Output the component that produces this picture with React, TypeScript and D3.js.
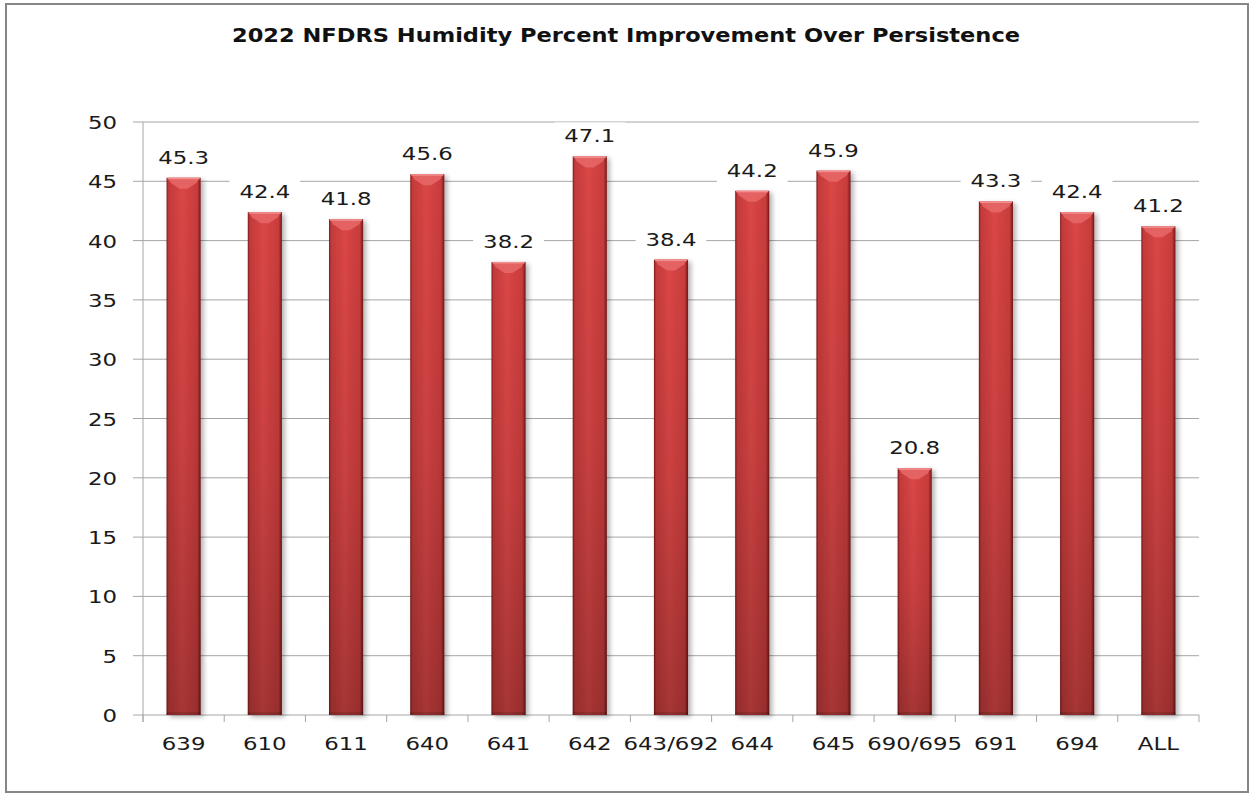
import React from "react";
import { scaleBand, scaleLinear, range } from "d3";

const categories = ["639", "610", "611", "640", "641", "642", "643/692", "644", "645", "690/695", "691", "694", "ALL"];
const values = [45.3, 42.4, 41.8, 45.6, 38.2, 47.1, 38.4, 44.2, 45.9, 20.8, 43.3, 42.4, 41.2];
const yTicks = range(0, 51, 5);
const title = "2022 NFDRS Humidity Percent Improvement Over Persistence";

const FONT = "'DejaVu Sans', Verdana, sans-serif";
const SX = 1.27; // glyphs in the picture are stretched horizontally

const App = () => {
  const width = 1252;
  const height = 794;
  const margin = { top: 122, right: 53, bottom: 79, left: 143 };
  const innerWidth = width - margin.left - margin.right;
  const innerHeight = height - margin.top - margin.bottom;

  const xScale = scaleBand().domain(categories).range([0, innerWidth]).paddingInner(0.58).paddingOuter(0.29);
  const step = innerWidth / categories.length;
  const yScale = scaleLinear().domain([0, 50]).range([innerHeight, 0]);

  const labelText = (v: number) => v.toFixed(1);
  const approxWidth = (s: string) => s.split("").reduce((a, c) => a + (c === "." ? 5.7 : 11.4), 0) * SX;

  return (
    <div style={{ position: "absolute", left: 0, top: 0 }}>
      <svg width={width} height={height} style={{ display: "block", background: "#fff" }}>
        <defs>
          <linearGradient id="barH" x1="0" x2="1" y1="0" y2="0">
            <stop offset="0%" stopColor="#7e1a1a" />
            <stop offset="6%" stopColor="#c33a3a" />
            <stop offset="45%" stopColor="#db4646" />
            <stop offset="90%" stopColor="#c83c3c" />
            <stop offset="100%" stopColor="#741717" />
          </linearGradient>
          <linearGradient id="barV" x1="0" x2="0" y1="0" y2="1">
            <stop offset="0%" stopColor="#000" stopOpacity="0" />
            <stop offset="50%" stopColor="#000" stopOpacity="0.08" />
            <stop offset="100%" stopColor="#000" stopOpacity="0.24" />
          </linearGradient>
          <filter id="shadow" x="-30%" y="-10%" width="160%" height="120%">
            <feGaussianBlur in="SourceAlpha" stdDeviation="2.5" />
            <feOffset dx="3" dy="2" result="b" />
            <feComponentTransfer>
              <feFuncA type="linear" slope="0.3" />
            </feComponentTransfer>
            <feMerge>
              <feMergeNode />
              <feMergeNode in="SourceGraphic" />
            </feMerge>
          </filter>
        </defs>

        <rect x={6} y={4} width={1242} height={788} fill="#fff" stroke="#868686" strokeWidth={2} />

        <text
          x={width / 2}
          y={42}
          textAnchor="middle"
          fontFamily={FONT}
          fontWeight="bold"
          fontSize={19}
          fill="#111"
          textLength={788}
          lengthAdjust="spacingAndGlyphs"
        >
          {title}
        </text>

        <g transform={`translate(${margin.left},${margin.top})`}>
          {/* gridlines */}
          {yTicks.map((t) => (
            <line key={t} x1={-10} x2={innerWidth} y1={yScale(t)} y2={yScale(t)} stroke="#a6a6a6" strokeWidth={1} />
          ))}
          {/* axes */}
          <line x1={0} x2={0} y1={0} y2={innerHeight + 7} stroke="#a6a6a6" />
          {range(categories.length + 1).map((i) => (
            <line key={i} x1={i * step} x2={i * step} y1={innerHeight} y2={innerHeight + 7} stroke="#a6a6a6" />
          ))}
          {yTicks.map((t) => (
            <text
              key={t}
              transform={`translate(-26,${yScale(t) + 7}) scale(${SX},1)`}
              textAnchor="end"
              fontFamily={FONT}
              fontSize={18}
              fill="#1a1a1a"
            >
              {t}
            </text>
          ))}
          {categories.map((c) => (
            <text
              key={c}
              transform={`translate(${(xScale(c) as number) + xScale.bandwidth() / 2},${innerHeight + 35}) scale(${SX},1)`}
              textAnchor="middle"
              fontFamily={FONT}
              fontSize={18}
              fill="#1a1a1a"
            >
              {c}
            </text>
          ))}

          {/* bars */}
          {categories.map((c, i) => {
            const x = xScale(c) as number;
            const w = xScale.bandwidth();
            const y = yScale(values[i]);
            const h = innerHeight - y;
            return (
              <g key={c}>
                <g filter="url(#shadow)">
                  <rect x={x} y={y} width={w} height={h} fill="url(#barH)" />
                </g>
                <rect x={x} y={y} width={w} height={h} fill="url(#barV)" />
                <path
                  d={`M${x + 1},${y} L${x + w - 1},${y} L${x + w - 4},${y + 5} L${x + w / 2 + 4},${y + 11} L${x + w / 2 - 4},${y + 11} L${x + 4},${y + 5} Z`}
                  fill="#e96a6a"
                  opacity={0.8}
                />
                <rect x={x + 1} y={y} width={w - 2} height={1.5} fill="#f29090" />
                <rect x={x} y={innerHeight - 3} width={w} height={3} fill="#000" opacity={0.12} />
              </g>
            );
          })}

          {/* data labels */}
          {categories.map((c, i) => {
            const cx = (xScale(c) as number) + xScale.bandwidth() / 2;
            const base = yScale(values[i]) - 14;
            const s = labelText(values[i]);
            const bw = approxWidth(s) + 20;
            return (
              <g key={c}>
                <rect x={cx - bw / 2} y={base - 20} width={bw} height={26} fill="#fff" />
                <text
                  transform={`translate(${cx},${base}) scale(${SX},1)`}
                  textAnchor="middle"
                  fontFamily={FONT}
                  fontSize={18}
                  fill="#1a1a1a"
                >
                  {s}
                </text>
              </g>
            );
          })}
        </g>
      </svg>
    </div>
  );
};

export default App;
